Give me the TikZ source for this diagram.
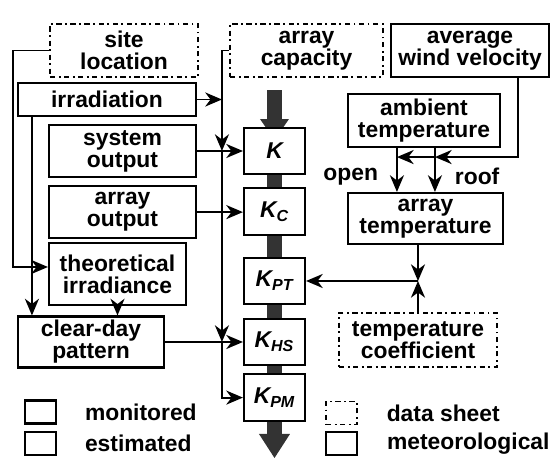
\documentclass[tikz,border=0pt]{standalone}
\usepackage{fontspec}
\setmainfont{Liberation Sans}
\usetikzlibrary{shapes,arrows,arrows.meta,positioning,calc}

\begin{document}
\begin{tikzpicture}[
    >={Stealth[length=9.5pt,width=8pt,inset=3pt]},
    line width=1.1pt,
    font=\fontsize{13}{12.5}\selectfont\bfseries,
    metbox/.style={rectangle, draw, fill=white, align=center, inner sep=0pt, line width=1.2pt},
    sheetbox/.style={rectangle, draw, fill=white, align=center, inner sep=0pt, line width=0.9pt, dash pattern=on 3pt off 2pt on 1pt off 2pt},
    kbox/.style={metbox, minimum width=1.22cm, minimum height=0.93cm, font=\fontsize{13}{12.5}\selectfont\bfseries\itshape},
    keybox/.style={minimum width=0.62cm, minimum height=0.46cm, inner sep=0pt},
    keytext/.style={inner sep=0pt}
]
    \useasboundingbox (0,0) rectangle (11.1,-9.18);

    % Main flow arrow
    \fill[black!80] (5.34,-1.80) rectangle (5.64,-8.70);
    \fill[black!80] (5.20,-2.38) -- (5.78,-2.38) -- (5.49,-2.80) -- cycle;
    \fill[black!80] (5.18,-8.68) -- (5.80,-8.68) -- (5.49,-9.16) -- cycle;

    % Inputs
    \node[sheetbox, minimum width=2.96cm, minimum height=1.06cm] (site_location) at (2.48,-1.01) {site\\location};
    \node[sheetbox, minimum width=3.06cm, minimum height=1.06cm] (array_capacity) at (6.13,-1.01) {array\\capacity};
    \node[metbox, minimum width=3.16cm, minimum height=1.06cm] (wind_velocity) at (9.40,-1.01) {average\\wind velocity};
    \node[metbox, minimum width=3.56cm, minimum height=0.66cm] (irradiation) at (2.14,-1.99) {irradiation};
    \node[metbox, minimum width=2.94cm, minimum height=1.04cm] (system_output) at (2.45,-3.02) {system\\output};
    \node[metbox, minimum width=2.94cm, minimum height=1.04cm, below=0.14cm of system_output] (array_output) {array\\output};
    \node[metbox, minimum width=2.74cm, minimum height=1.24cm] (theo_irradiance) at (2.35,-5.48) {theoretical\\irradiance};
    \node[metbox, minimum width=2.92cm, minimum height=1.02cm] (clear_day) at (1.82,-6.84) {clear-day\\pattern};

    % Temperature side
    \node[metbox, minimum width=3.04cm, minimum height=1.06cm] (ambient_temp) at (8.48,-2.41) {ambient\\temperature};
    \node[metbox, minimum width=3.10cm, minimum height=1.02cm] (array_temp) at (8.51,-4.37) {array\\temperature};
    \node[sheetbox, minimum width=3.16cm, minimum height=1.08cm] (temp_coeff) at (8.36,-6.80) {temperature\\coefficient};

    % Loss factors
    \node[kbox] (k_total) at (5.49,-3.02) {K};
    \node[kbox, below=0.24cm of k_total] (k_c) {K\textsubscript{C}};
    \node[kbox] (k_pt) at (5.49,-5.62) {K\textsubscript{PT}};
    \node[kbox] (k_hs) at (5.49,-6.84) {K\textsubscript{HS}};
    \node[kbox, below=0.14cm of k_hs] (k_pm) {K\textsubscript{PM}};

    % Bus line
    \coordinate (bus) at ($(k_total.west)+(-0.42,0)$);
    \coordinate (bus_k) at (system_output.east -| bus);
    \coordinate (bus_hs) at (clear_day.east -| bus);
    \draw[->] (array_capacity.west) -| (bus_k);
    \draw[->] (bus_k) -- (bus_hs);
    \draw[->] (bus_hs) |- (k_pm.west);
    \draw[->] (irradiation.east) -- (irradiation.east -| bus);
    \draw[->] (system_output.east) -- (system_output.east -| k_total.west);
    \draw[->] (array_output.east) -- (array_output.east -| k_c.west);
    \draw[->] (clear_day.east) -- (clear_day.east -| k_hs.west);

    % Left side
    \draw[->] (site_location.west) -- ++(-0.72,0) |- ([yshift=0.14cm]theo_irradiance.west);
    \draw[->] ([xshift=0.3cm]irradiation.south west) -- ([xshift=0.3cm]irradiation.south west |- clear_day.north);
    \draw[->] (theo_irradiance.south) -- (theo_irradiance.south |- clear_day.north);

    % Temperature paths
    \coordinate (roof_j) at ($(ambient_temp.south west)+(1.76,-0.18)$);
    \coordinate (open_j) at ($(ambient_temp.south west)+(1.0,-0.18)$);
    \draw[->] ([xshift=-0.64cm]wind_velocity.south east) |- (roof_j);
    \draw[->] (roof_j) -- (open_j);
    \draw[->] (ambient_temp.south west -| open_j) -- (array_temp.north west -| open_j)
        node[pos=0.65, left=0.36cm, inner sep=0pt] (open_lbl) {open};
    \draw[->] (ambient_temp.south west -| roof_j) -- (array_temp.north west -| roof_j)
        node[pos=0.65, right=0.38cm, inner sep=0pt] (roof_lbl) {roof};
    \coordinate (temp_j) at (temp_coeff.north |- k_pt.east);
    \draw[->] (array_temp.south -| temp_j) -- (temp_j);
    \draw[->] (temp_coeff.north) -- (temp_j);
    \draw[->] (temp_j) -- (k_pt.east);

    % Legend
    \node[metbox, keybox] (mon_key) at (0.81,-8.24) {};
    \node[keytext, right=0.54cm of mon_key] (mon_text) {monitored};
    \node[metbox, keybox, below=0.12cm of mon_key] (est_key) {};
    \node[keytext, right=0.54cm of est_key] (est_text) {estimated};
    \node[sheetbox, keybox] (sheet_key) at (6.83,-8.26) {};
    \node[keytext, right=0.56cm of sheet_key] (sheet_text) {data sheet};
    \node[metbox, keybox, below=0.12cm of sheet_key] (met_key) {};
    \node[keytext, right=0.56cm of met_key] (met_text) {meteorological};
\end{tikzpicture}
\end{document}
